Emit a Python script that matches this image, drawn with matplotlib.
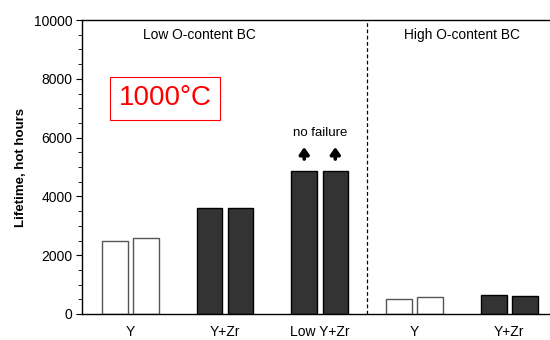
import matplotlib
matplotlib.use("Agg")
import matplotlib.pyplot as plt
from matplotlib.ticker import MultipleLocator

plt.rcParams['font.family'] = ['Liberation Sans', 'DejaVu Sans']

categories = ["Y", "Y+Zr", "Low Y+Zr", "Y", "Y+Zr"]
bar1 = [2500, 3600, 4850, 510, 640]
bar2 = [2580, 3600, 4850, 580, 625]
filled = [False, True, True, False, True]
no_failure = [False, False, True, False, False]
group_labels = ["Low O-content BC", "High O-content BC"]
temp_label = "1000°C"

fig = plt.figure(figsize=(5.5, 3.4), dpi=100)
ax = fig.add_axes([0.149, 0.0765, 0.851, 0.8645])

w = 0.27
off = 0.164
for i, (a, b, f) in enumerate(zip(bar1, bar2, filled)):
    fc = "#333333" if f else "white"
    ec = "black" if f else "#555555"
    ax.bar([i - off, i + off], [a, b], width=w, color=fc, edgecolor=ec, linewidth=1.0, zorder=2)
    if no_failure[i]:
        top = max(a, b)
        for x in (i - off, i + off):
            ax.annotate("", xy=(x, top + 830), xytext=(x, top + 420),
                        arrowprops=dict(arrowstyle="-|>,head_width=0.28,head_length=0.4",
                                        color="black", lw=2.6, shrinkA=0, shrinkB=0))
        ax.text(i, top + 1100, "no failure", ha="center", va="bottom", fontsize=9.5)

ax.set_xlim(-0.51, 4.43)
ax.set_ylim(0, 10000)
ax.set_xticks(range(len(categories)))
ax.set_xticklabels(categories, fontsize=10)
ax.tick_params(axis="x", length=0, pad=8)
ax.yaxis.set_major_locator(MultipleLocator(2000))
ax.yaxis.set_minor_locator(MultipleLocator(500))
ax.tick_params(axis="y", which="major", length=4, labelsize=10, pad=3)
ax.tick_params(axis="y", which="minor", length=3)
ax.spines["right"].set_visible(False)
for s in ["left", "bottom", "top"]:
    ax.spines[s].set_linewidth(1.0)

ax.axvline(2.5, color="black", linestyle=(0, (3, 2)), linewidth=0.9)

ax.text(0.735, 9480, group_labels[0], ha="center", va="center", fontsize=9.9)
ax.text(3.5, 9480, group_labels[1], ha="center", va="center", fontsize=9.9)

ax.text(0.37, 7340, temp_label, ha="center", va="center", fontsize=20, color="red",
        bbox=dict(boxstyle="square,pad=0.3", facecolor="white", edgecolor="red", linewidth=0.8))

ax.set_ylabel("Lifetime, hot hours", fontsize=9.5, fontweight="bold", labelpad=5)

fig.savefig("out.png", dpi=100)
